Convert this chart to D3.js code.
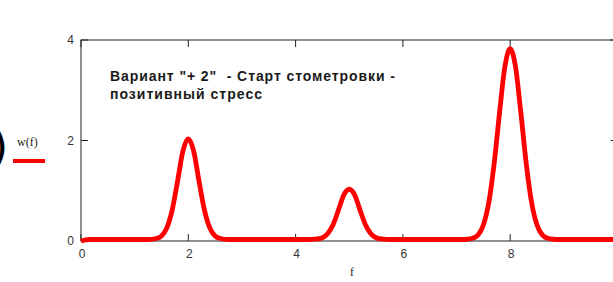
<!DOCTYPE html>
<html>
<head>
<meta charset="utf-8">
<script src="https://cdn.jsdelivr.net/npm/d3@7"></script>
<style>
  html, body { margin: 0; padding: 0; background: #fff; }
  svg { display: block; }
  .tick-label { font-family: "Liberation Sans", Arial, sans-serif; font-size: 12px; fill: #333; }
  .note { font-family: "Liberation Sans", Arial, sans-serif; font-size: 14px; font-weight: bold; fill: #1a1a1a; white-space: pre; }
</style>
</head>
<body>
<svg width="613" height="282"></svg>
<script>
// значения
const fPoints = [0, 0.15, 1.2, 1.3, 1.4, 1.5, 1.6, 1.7, 1.8, 1.9, 2.0, 2.1, 2.2, 2.3, 2.4, 2.5, 2.6, 2.7, 2.8,
  4.2, 4.3, 4.4, 4.5, 4.6, 4.7, 4.8, 4.9, 5.0, 5.1, 5.2, 5.3, 5.4, 5.5, 5.6, 5.7, 5.8,
  7.1, 7.2, 7.3, 7.4, 7.5, 7.6, 7.7, 7.8, 7.9, 8.0, 8.1, 8.2, 8.3, 8.4, 8.5, 8.6, 8.7, 8.8, 8.9, 10];
const wPoints = [0, 0.03, 0.03, 0.034, 0.05, 0.1, 0.26, 0.62, 1.19, 1.79, 2.03, 1.79, 1.19, 0.62, 0.26, 0.1, 0.05, 0.034, 0.03,
  0.03, 0.032, 0.04, 0.065, 0.15, 0.33, 0.62, 0.92, 1.03, 0.92, 0.62, 0.33, 0.15, 0.065, 0.04, 0.032, 0.03,
  0.03, 0.035, 0.054, 0.12, 0.32, 0.76, 1.53, 2.54, 3.46, 3.83, 3.46, 2.54, 1.53, 0.76, 0.32, 0.12, 0.054, 0.035, 0.03, 0.03];
const xTicks = [0, 2, 4, 6, 8];
const yTicks = [0, 2, 4];
const noteLines = ['Вариант "+ 2"  - Старт стометровки -', 'позитивный стресс'];
const noteWidths = [285, 152];
const legendLabel = "w(f)";
const xLabel = "f";

const svg = d3.select("svg");
const pLeft = 81, pTop = 40, pBottom = 241, pRight = 617.5;

const x = d3.scaleLinear().domain([0, 10]).range([pLeft, pRight]);
const y = d3.scaleLinear().domain([0, 4]).range([pBottom, pTop]);

// рамка графика
svg.append("rect")
  .attr("x", pLeft).attr("y", pTop)
  .attr("width", pRight - pLeft).attr("height", pBottom - pTop)
  .attr("fill", "none").attr("stroke", "#222").attr("stroke-width", 1);

// засечки внутрь
const tk = 7;
svg.append("g").selectAll("line").data(xTicks).join("line")
  .attr("x1", d => x(d)).attr("x2", d => x(d))
  .attr("y1", pBottom).attr("y2", pBottom - tk)
  .attr("stroke", "#222");
svg.append("g").selectAll("line").data(xTicks).join("line")
  .attr("x1", d => x(d)).attr("x2", d => x(d))
  .attr("y1", pTop).attr("y2", pTop + tk)
  .attr("stroke", "#222");
svg.append("g").selectAll("line").data(yTicks).join("line")
  .attr("x1", pLeft).attr("x2", pLeft + tk)
  .attr("y1", d => y(d)).attr("y2", d => y(d))
  .attr("stroke", "#222");
svg.append("g").selectAll("line").data(yTicks).join("line")
  .attr("x1", pRight).attr("x2", pRight - tk)
  .attr("y1", d => y(d)).attr("y2", d => y(d))
  .attr("stroke", "#222");

// подписи осей
svg.append("g").selectAll("text").data(xTicks).join("text")
  .attr("class", "tick-label")
  .attr("x", d => x(d) + 1).attr("y", pBottom + 17)
  .attr("text-anchor", "middle")
  .text(d => d);
svg.append("g").selectAll("text").data(yTicks).join("text")
  .attr("class", "tick-label")
  .attr("x", pLeft - 7).attr("y", d => y(d) + 4)
  .attr("text-anchor", "end")
  .text(d => d);
svg.append("text")
  .attr("x", 352).attr("y", 276)
  .attr("font-family", "Liberation Serif, serif")
  .attr("font-size", 13)
  .attr("fill", "#333")
  .attr("text-anchor", "middle")
  .text(xLabel);

// кривая
const line = d3.line()
  .x((d, i) => x(fPoints[i]))
  .y(d => y(d))
  .curve(d3.curveMonotoneX);

svg.append("path")
  .datum(wPoints)
  .attr("d", line)
  .attr("fill", "none")
  .attr("stroke", "#ff0000")
  .attr("stroke-width", 4.8)
  .attr("stroke-linejoin", "round");

// надпись
svg.append("g").selectAll("text").data(noteLines).join("text")
  .attr("class", "note")
  .attr("x", 110).attr("y", (d, i) => 81 + i * 18)
  .attr("textLength", (d, i) => noteWidths[i])
  .attr("lengthAdjust", "spacing")
  .text(d => d);

// легенда слева
svg.append("text")
  .attr("x", -9).attr("y", 162)
  .attr("font-family", "DejaVu Sans, sans-serif")
  .attr("font-size", 44)
  .attr("fill", "#000")
  .text(")");
svg.append("text")
  .attr("x", 17).attr("y", 146)
  .attr("font-family", "Liberation Serif, serif")
  .attr("font-size", 12)
  .attr("fill", "#222")
  .text(legendLabel);
svg.append("line")
  .attr("x1", 13).attr("x2", 45)
  .attr("y1", 161).attr("y2", 161)
  .attr("stroke", "#ff0000").attr("stroke-width", 4);
</script>
</body>
</html>
